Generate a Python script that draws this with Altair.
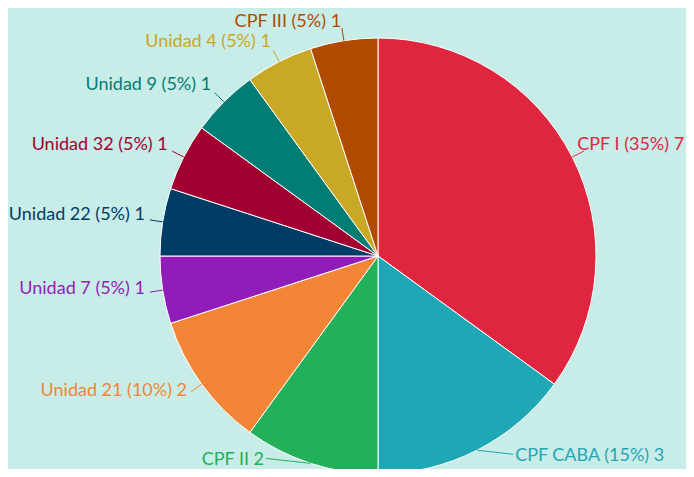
import altair as alt
import pandas as pd

names = ["CPF I", "CPF CABA", "CPF II", "Unidad 21", "Unidad 7",
         "Unidad 22", "Unidad 32", "Unidad 9", "Unidad 4", "CPF III"]
values = [7, 3, 2, 2, 1, 1, 1, 1, 1, 1]
labels = ["CPF I (35%) 7", "CPF CABA (15%) 3", "CPF II 2", "Unidad 21 (10%) 2",
          "Unidad 7 (5%) 1", "Unidad 22 (5%) 1", "Unidad 32 (5%) 1",
          "Unidad 9 (5%) 1", "Unidad 4 (5%) 1", "CPF III (5%) 1"]
colors = ["#e0263f", "#1fa7b5", "#22b058", "#f28536", "#921cba",
          "#003d66", "#a30032", "#007d75", "#c9a826", "#b04a00"]

df = pd.DataFrame({"name": names, "value": values, "label": labels,
                   "idx": list(range(len(names)))})

CX, CY, R = 370, 248, 218
R1, R2, RL = 218, 231, 236
FONT = "Lato"
FS = 18
BG = "#c8ece8"

color = alt.Color("name:N", scale=alt.Scale(domain=names, range=colors), legend=None)

base = (
    alt.Chart(df)
    .transform_window(cum="sum(value)", sort=[alt.SortField("idx")], frame=[None, 0])
    .transform_joinaggregate(total="sum(value)")
    .transform_calculate(mid="2*PI*(datum.cum - datum.value/2)/datum.total")
    .transform_calculate(
        ex=f"{CX} + {R1}*sin(datum.mid)", ey=f"{CY} - {R1}*cos(datum.mid)",
        ox=f"{CX} + {R2}*sin(datum.mid)", oy=f"{CY} - {R2}*cos(datum.mid)",
        lx=f"{CX} + {RL}*sin(datum.mid)", ly=f"{CY} - {RL}*cos(datum.mid)",
    )
)

pie = alt.Chart(df).mark_arc(radius=R, stroke="#ffffff", strokeWidth=1).encode(
    theta=alt.Theta("value:Q", stack=True),
    order=alt.Order("idx:Q"),
    color=color,
    x=alt.value(CX), y=alt.value(CY),
)

generic = [3, 4, 5, 6, 7, 8]

rules = base.transform_filter(alt.FieldOneOfPredicate(field="idx", oneOf=[0, 9] + generic)).mark_rule(strokeWidth=1).encode(
    x=alt.X("ex:Q", scale=None), y=alt.Y("ey:Q", scale=None),
    x2="ox:Q", y2="oy:Q", color=color,
)

rule_caba = base.transform_filter("datum.idx == 1").transform_calculate(
    tx="datum.lx + 28", ty="datum.ly - 12").mark_rule(strokeWidth=1).encode(
    x=alt.X("ex:Q", scale=None), y=alt.Y("ey:Q", scale=None),
    x2="tx:Q", y2="ty:Q", color=color)
rule_ii = base.transform_filter("datum.idx == 2").transform_calculate(
    tx="datum.lx - 39", ty="datum.ly - 22").mark_rule(strokeWidth=1).encode(
    x=alt.X("ex:Q", scale=None), y=alt.Y("ey:Q", scale=None),
    x2="tx:Q", y2="ty:Q", color=color)


def txt(filt, align, dx=0, dy=-4):
    return base.transform_filter(filt).mark_text(
        font=FONT, fontSize=FS, align=align, baseline="middle", dx=dx, dy=dy
    ).encode(
        x=alt.X("lx:Q", scale=None), y=alt.Y("ly:Q", scale=None),
        text="label:N", color=color,
    )


text_left = txt("datum.idx == 0", "left", dx=-11)
text_right = txt(alt.FieldOneOfPredicate(field="idx", oneOf=generic), "right")
text_iii = txt("datum.idx == 9", "right", dy=-1)
text_caba = txt("datum.idx == 1", "left", dx=30, dy=-10)
text_ii = txt("datum.idx == 2", "right", dx=-41, dy=-20)

chart = alt.layer(pie, rules, rule_caba, rule_ii, text_left, text_right, text_iii,
                  text_caba, text_ii).properties(
    width=678, height=461, padding=0, autosize=alt.AutoSizeParams(type="none"),
    background=BG,
).configure_view(stroke=None)

chart.save("out.html", embed_options={"renderer": "svg", "actions": False})
